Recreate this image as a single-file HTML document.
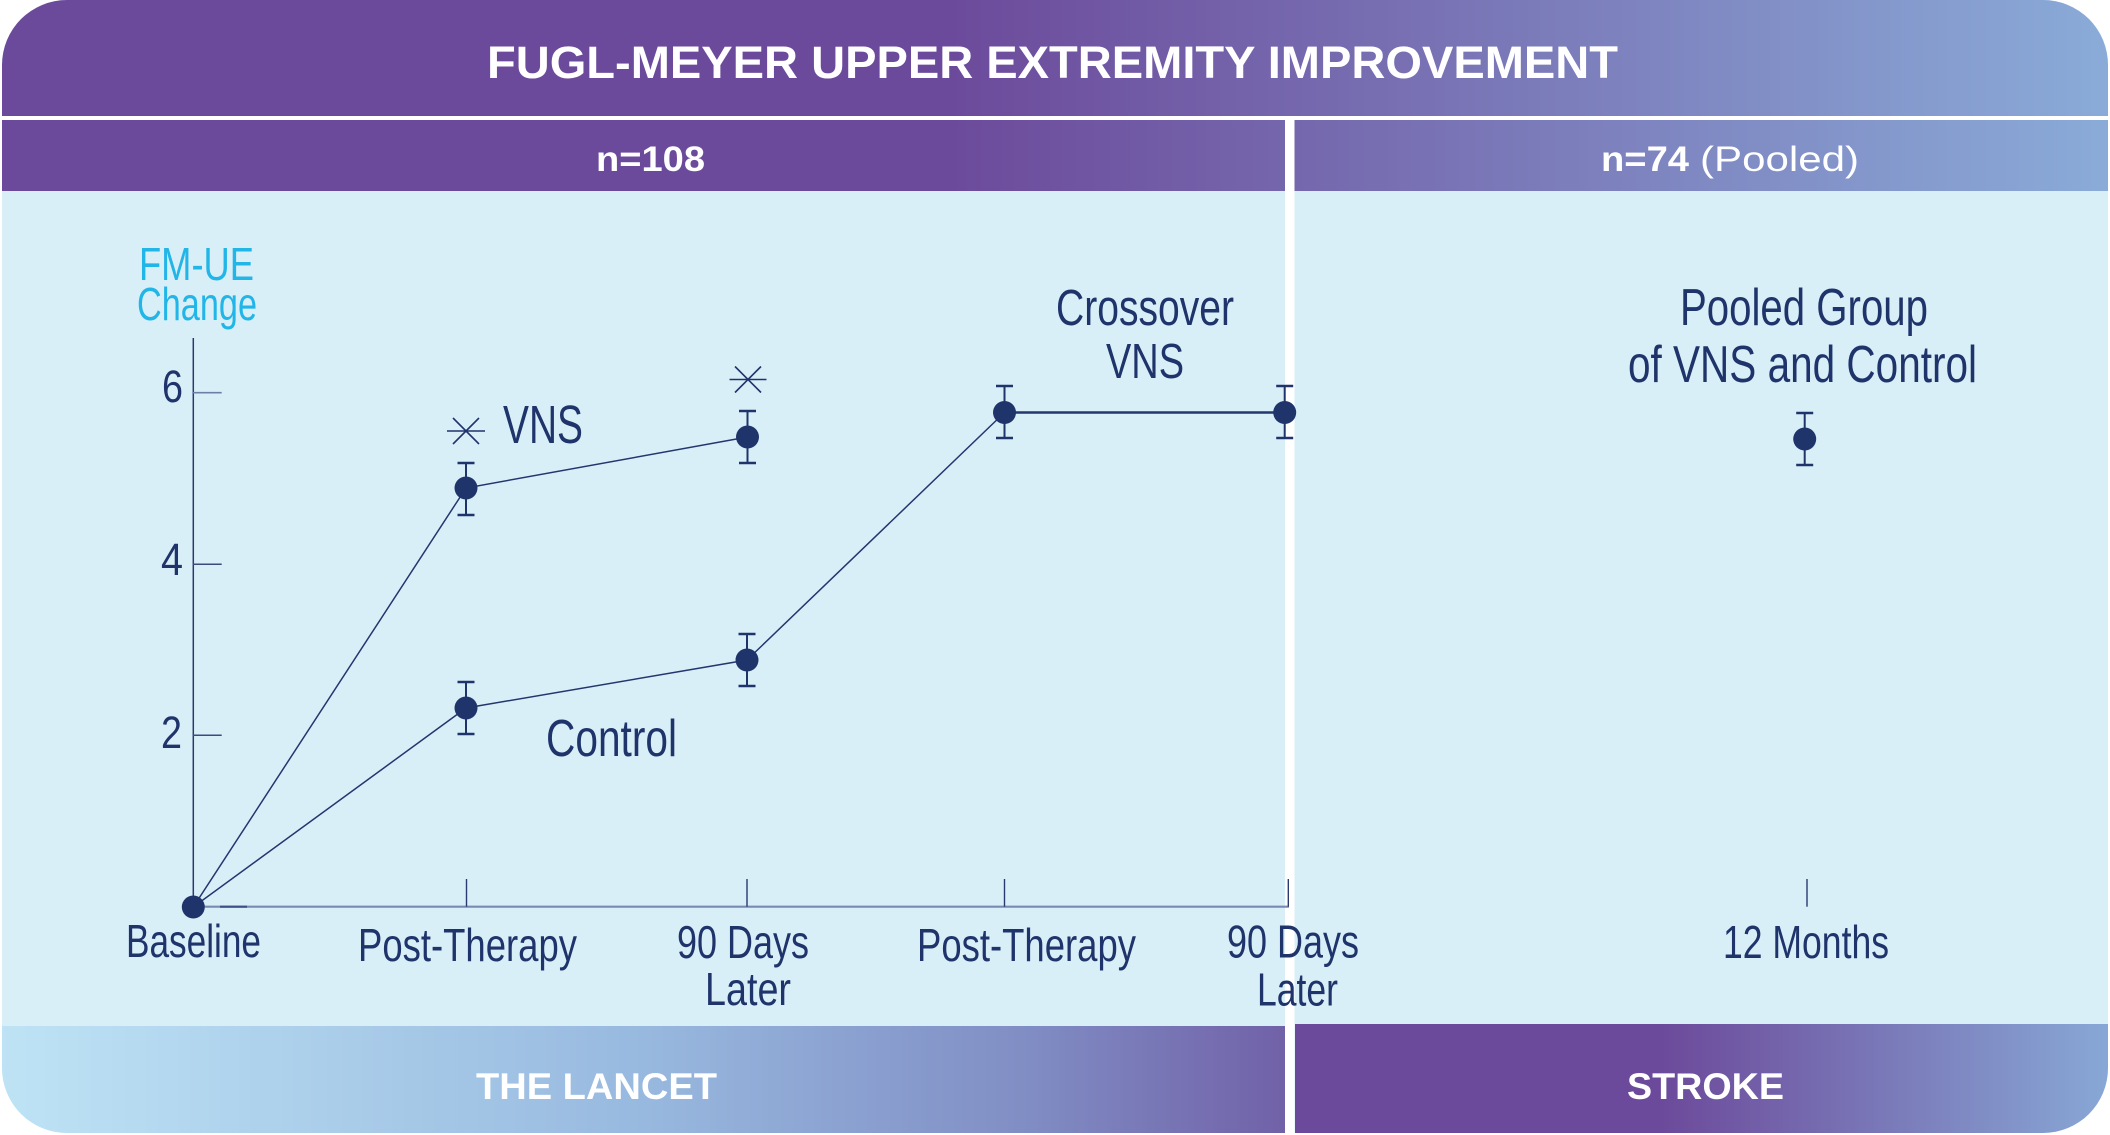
<!DOCTYPE html>
<html><head><meta charset="utf-8"><style>
html,body{margin:0;padding:0;background:#fff;}
svg{display:block;}
text{font-family:"Liberation Sans",sans-serif;}
</style></head><body>
<svg width="2110" height="1135" viewBox="0 0 2110 1135" xmlns="http://www.w3.org/2000/svg">
<defs>
<clipPath id="card"><rect x="2" y="0" width="2106" height="1133" rx="65" ry="65"/></clipPath>
<linearGradient id="hdr" x1="0" y1="0" x2="2110" y2="0" gradientUnits="userSpaceOnUse">
 <stop offset="0" stop-color="#6c4a9b"/>
 <stop offset="0.45" stop-color="#6c4a9b"/>
 <stop offset="1" stop-color="#8aabd8"/>
</linearGradient>
<linearGradient id="botL" x1="0" y1="0" x2="1285" y2="0" gradientUnits="userSpaceOnUse">
 <stop offset="0" stop-color="#bee3f5"/>
 <stop offset="0.5" stop-color="#98b9df"/>
 <stop offset="0.8" stop-color="#808dc4"/>
 <stop offset="1" stop-color="#7161a8"/>
</linearGradient>
<linearGradient id="botR" x1="1295" y1="0" x2="2110" y2="0" gradientUnits="userSpaceOnUse">
 <stop offset="0" stop-color="#6c4a9b"/>
 <stop offset="0.45" stop-color="#6c4a9b"/>
 <stop offset="1" stop-color="#88a8d6"/>
</linearGradient>
</defs>
<g clip-path="url(#card)">
 <rect x="0" y="0" width="2110" height="1135" fill="#d9eff8"/>
 <rect x="0" y="0" width="2110" height="116" fill="url(#hdr)"/>
 <rect x="0" y="116" width="2110" height="4" fill="#ffffff"/>
 <rect x="0" y="120" width="2110" height="71" fill="url(#hdr)"/>
 <rect x="0" y="1026" width="1285" height="109" fill="url(#botL)"/>
 <rect x="1295" y="1024" width="815" height="111" fill="url(#botR)"/>
 <rect x="1285" y="116" width="9.5" height="1019" fill="#ffffff"/>
</g>

<!-- header text -->
<text x="487" y="78" font-size="45" font-weight="bold" fill="#ffffff" textLength="1131" lengthAdjust="spacingAndGlyphs">FUGL-MEYER UPPER EXTREMITY IMPROVEMENT</text>
<text x="596" y="171" font-size="35" font-weight="bold" fill="#ffffff" textLength="109" lengthAdjust="spacingAndGlyphs">n=108</text>
<text x="1601" y="171" font-size="35" font-weight="bold" fill="#ffffff" textLength="88" lengthAdjust="spacingAndGlyphs">n=74</text>
<text x="1700" y="171" font-size="35" fill="#ffffff" textLength="159" lengthAdjust="spacingAndGlyphs">(Pooled)</text>

<!-- bottom text -->
<text x="476" y="1099" font-size="37" font-weight="bold" fill="#ffffff" textLength="241" lengthAdjust="spacingAndGlyphs">THE LANCET</text>
<text x="1627" y="1099" font-size="37" font-weight="bold" fill="#ffffff" textLength="157" lengthAdjust="spacingAndGlyphs">STROKE</text>

<!-- y axis label -->
<text x="139" y="280" font-size="46" fill="#22b5e8" textLength="115" lengthAdjust="spacingAndGlyphs">FM-UE</text>
<text x="137" y="320" font-size="46" fill="#22b5e8" textLength="120" lengthAdjust="spacingAndGlyphs">Change</text>

<!-- axes -->
<line x1="193.3" y1="338" x2="193.3" y2="907" stroke="#2a3a70" stroke-width="1.5"/>
<line x1="193" y1="906.7" x2="1289" y2="906.7" stroke="#7a89b2" stroke-width="2.2"/>
<line x1="220" y1="906.7" x2="247" y2="906.7" stroke="#3c4f88" stroke-width="2.2"/>
<line x1="193" y1="392.7" x2="221.7" y2="392.7" stroke="#6f7ea8" stroke-width="1.6"/>
<line x1="193" y1="564.3" x2="221.7" y2="564.3" stroke="#3c4a7e" stroke-width="1.5"/>
<line x1="193" y1="735.3" x2="221.7" y2="735.3" stroke="#3c4a7e" stroke-width="1.5"/>
<g fill="#20346c" font-size="45">
<text x="162" y="402" textLength="21" lengthAdjust="spacingAndGlyphs">6</text>
<text x="161" y="575" textLength="22" lengthAdjust="spacingAndGlyphs">4</text>
<text x="161" y="748" textLength="21" lengthAdjust="spacingAndGlyphs">2</text>
</g>
<g stroke="#2a3a70" stroke-width="1.4">
<line x1="466.5" y1="879" x2="466.5" y2="906.7"/>
<line x1="747" y1="879" x2="747" y2="906.7"/>
<line x1="1004.5" y1="879" x2="1004.5" y2="906.7"/>
<line x1="1288.3" y1="879" x2="1288.3" y2="906.7"/>
<line x1="1807" y1="879" x2="1807" y2="906.7"/>
</g>

<!-- x labels -->
<g fill="#20346c" font-size="46">
<text x="126" y="957" textLength="135" lengthAdjust="spacingAndGlyphs">Baseline</text>
<text x="358" y="961" textLength="219" lengthAdjust="spacingAndGlyphs">Post-Therapy</text>
<text x="677" y="958" textLength="132" lengthAdjust="spacingAndGlyphs">90 Days</text>
<text x="705" y="1005" textLength="86" lengthAdjust="spacingAndGlyphs">Later</text>
<text x="917" y="961" textLength="219" lengthAdjust="spacingAndGlyphs">Post-Therapy</text>
<text x="1227" y="957.5" textLength="132" lengthAdjust="spacingAndGlyphs">90 Days</text>
<text x="1257" y="1005.5" textLength="81" lengthAdjust="spacingAndGlyphs">Later</text>
<text x="1723" y="958" textLength="166" lengthAdjust="spacingAndGlyphs">12 Months</text>
</g>

<!-- series labels -->
<g fill="#20346c">
<text x="503" y="443" font-size="54" textLength="80" lengthAdjust="spacingAndGlyphs">VNS</text>
<text x="546" y="756" font-size="52" textLength="131" lengthAdjust="spacingAndGlyphs">Control</text>
<text x="1056" y="325" font-size="51" textLength="178" lengthAdjust="spacingAndGlyphs">Crossover</text>
<text x="1106" y="378" font-size="49" textLength="78" lengthAdjust="spacingAndGlyphs">VNS</text>
<text x="1680" y="325" font-size="52" textLength="248" lengthAdjust="spacingAndGlyphs">Pooled Group</text>
<text x="1628" y="382" font-size="52" textLength="349" lengthAdjust="spacingAndGlyphs">of VNS and Control</text>
</g>

<!-- data lines -->
<g stroke="#24366e" fill="none" stroke-width="1.5">
<polyline points="193.3,907 466,488 747.5,437"/>
<polyline points="193.3,907 466,708 747,660 1004.5,412.5"/>
</g>
<line x1="1004.5" y1="412.5" x2="1284.7" y2="412.5" stroke="#24366e" stroke-width="2.6"/>

<!-- error bars -->
<g stroke="#20346c" stroke-width="2">
<line x1="466" y1="463" x2="466" y2="515"/>
<line x1="747.5" y1="411" x2="747.5" y2="463"/>
<line x1="466" y1="682" x2="466" y2="734"/>
<line x1="747" y1="634" x2="747" y2="686"/>
<line x1="1004.5" y1="386" x2="1004.5" y2="438"/>
<line x1="1284.7" y1="386" x2="1284.7" y2="438"/>
<line x1="1804.7" y1="413" x2="1804.7" y2="465"/>
</g>
<g stroke="#20346c" stroke-width="2.6">
<line x1="457.5" y1="463" x2="474.5" y2="463"/><line x1="457.5" y1="515" x2="474.5" y2="515"/>
<line x1="739" y1="411" x2="756" y2="411"/><line x1="739" y1="463" x2="756" y2="463"/>
<line x1="457.5" y1="682" x2="474.5" y2="682"/><line x1="457.5" y1="734" x2="474.5" y2="734"/>
<line x1="738.5" y1="634" x2="755.5" y2="634"/><line x1="738.5" y1="686" x2="755.5" y2="686"/>
<line x1="996" y1="386" x2="1013" y2="386"/><line x1="996" y1="438" x2="1013" y2="438"/>
<line x1="1276.2" y1="386" x2="1293.2" y2="386"/><line x1="1276.2" y1="438" x2="1293.2" y2="438"/>
<line x1="1796.2" y1="413" x2="1813.2" y2="413"/><line x1="1796.2" y1="465" x2="1813.2" y2="465"/>
</g>

<!-- dots -->
<g fill="#20346c">
<circle cx="193.3" cy="907" r="11.5"/>
<circle cx="466" cy="488" r="11.5"/>
<circle cx="747.5" cy="437" r="11.5"/>
<circle cx="466" cy="708" r="11.5"/>
<circle cx="747" cy="660" r="11.5"/>
<circle cx="1004.5" cy="412.5" r="11.5"/>
<circle cx="1284.7" cy="412.5" r="11.5"/>
<circle cx="1804.7" cy="439" r="11.5"/>
</g>

<!-- asterisks -->
<g stroke="#20346c" stroke-width="1.6">
<line x1="447" y1="431" x2="485" y2="431"/>
<line x1="453" y1="418" x2="479" y2="444"/>
<line x1="453" y1="444" x2="479" y2="418"/>
<line x1="729.5" y1="379.5" x2="766.5" y2="379.5"/>
<line x1="735" y1="366.5" x2="761" y2="392.5"/>
<line x1="735" y1="392.5" x2="761" y2="366.5"/>
</g>
</svg>
</body></html>
